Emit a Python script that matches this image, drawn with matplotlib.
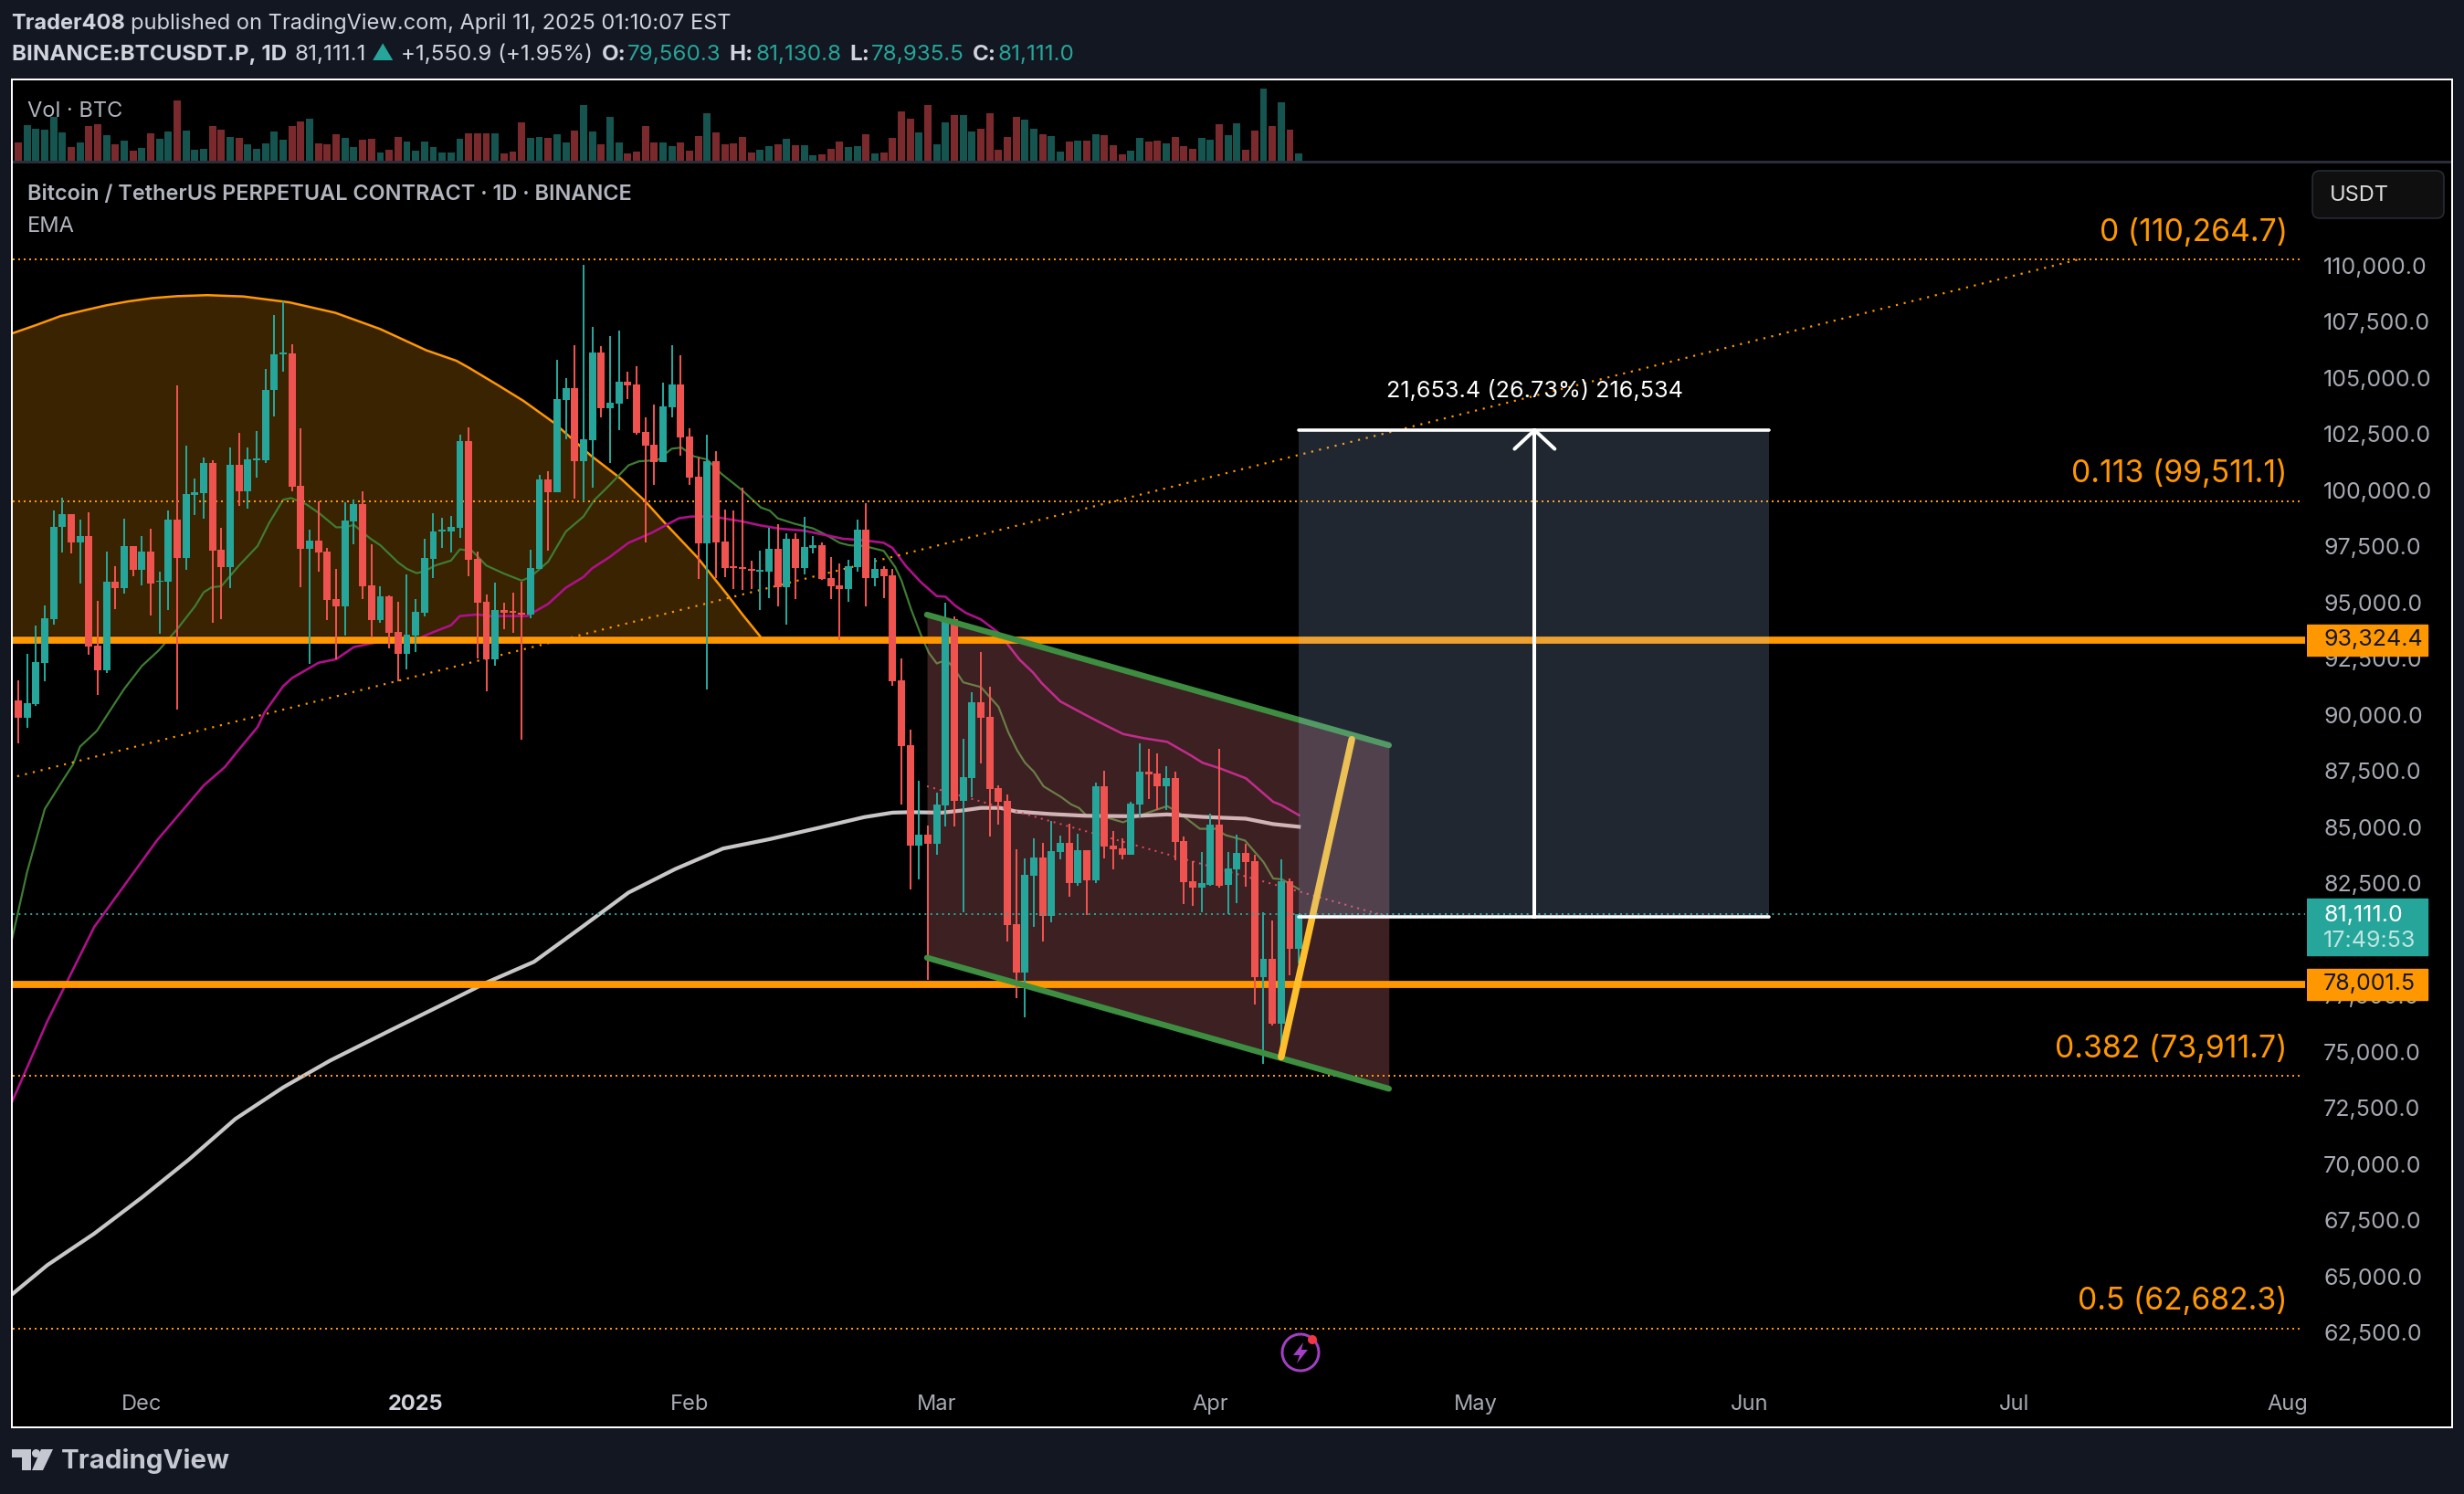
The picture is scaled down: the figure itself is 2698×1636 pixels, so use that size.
import matplotlib
matplotlib.use('Agg')
import matplotlib.pyplot as plt
from matplotlib.patches import Rectangle, Polygon, Circle, Arc, FancyBboxPatch
from matplotlib.transforms import blended_transform_factory

plt.rcParams['font.family'] = ['Inter', 'DejaVu Sans']

# Daily candles, first bar is Nov 17 2024
opens = [90630, 89870, 90470, 92310, 94270, 98340, 98930, 97680, 97950, 93070, 91980, 95910, 95640, 97510, 96450, 97260,
         95900, 95900, 98690, 96970, 99780, 99860, 101200, 97340, 96570, 101130, 99950, 101330, 101330, 104440, 106060,
         106080, 100180, 97380, 97740, 97260, 95140, 94820, 98600, 99370, 95750, 94210, 95280, 93680, 92700, 93520,
         94530, 96930, 98160, 98150, 98320, 102190, 96930, 95030, 92460, 94650, 94620, 94520, 94460, 96490, 100470,
         99910, 104010, 104540, 101290, 102210, 106120, 103640, 103840, 104830, 104700, 102590, 102010, 101240, 103680,
         104700, 102390, 100590, 97630, 101290, 97710, 96610, 96570, 96490, 96360, 96360, 97380, 95680, 97830, 96520,
         97440, 97540, 96090, 95750, 95590, 96570, 98240, 96090, 96490, 96200, 91520, 88650, 84180, 84660, 84240, 85960,
         94240, 86160, 87180, 90560, 89900, 86730, 86160, 80670, 78520, 82830, 83650, 81060, 83890, 84290, 82510, 83970,
         82620, 86810, 84180, 84050, 83760, 85990, 87460, 87380, 86810, 87180, 84370, 82590, 82300, 82440, 85110, 82430,
         83120, 83840, 83490, 78310, 79130, 76240, 82590, 79560]
highs = [91530, 92700, 93970, 94870, 99090, 99660, 98930, 98690, 99000, 95070, 97260, 96610, 98730, 97510, 97950, 98280,
         96360, 99090, 104650, 101980, 100510, 101440, 101310, 98320, 101890, 102550, 101890, 102620, 105390, 107790,
         108410, 106480, 102750, 98240, 99480, 97420, 96490, 99450, 99570, 99950, 97580, 95710, 95300, 95030, 96250,
         95140, 97830, 98960, 98760, 98850, 102460, 102790, 97260, 95350, 95880, 94980, 95430, 95910, 97340, 100680,
         100830, 105800, 104990, 106450, 110020, 107270, 106410, 106860, 107090, 105260, 105510, 103230, 103800, 104780,
         106450, 106000, 102750, 101440, 102460, 101730, 99140, 99090, 100110, 96860, 97310, 98320, 98480, 98080, 98080,
         98800, 97950, 97650, 97020, 96730, 96900, 98690, 99410, 96970, 96610, 96490, 92500, 89350, 87050, 85060, 86520,
         94980, 94370, 88920, 90990, 92790, 91250, 86850, 86450, 84000, 83600, 84500, 84290, 85270, 84610, 85140, 84690,
         83970, 86980, 87500, 84820, 84480, 86120, 88740, 88490, 88260, 87710, 87460, 84560, 83490, 83890, 85580, 88490,
         83890, 84640, 84240, 83760, 81190, 80830, 83570, 82700, 81130]
lows = [88730, 89420, 90400, 91480, 94020, 97220, 97180, 95840, 92660, 90880, 91850, 94690, 95400, 96160, 95750, 94420,
        93600, 94660, 90210, 96450, 98890, 98730, 94070, 94270, 95650, 99300, 99180, 100560, 101200, 103270, 105260,
        99950, 95680, 92250, 96360, 94210, 92470, 93520, 97580, 95140, 93440, 94080, 92950, 91480, 92020, 92790, 94390,
        96090, 97420, 97220, 97870, 96160, 92500, 91030, 92180, 93810, 93650, 88900, 94290, 96490, 97310, 99910, 102260,
        99610, 99500, 100110, 103230, 101200, 102660, 104040, 102460, 97670, 100220, 101240, 103230, 101530, 100220,
        96040, 91120, 96090, 96120, 95590, 95550, 95590, 94660, 95190, 94820, 94010, 95140, 96250, 97180, 96000, 95140,
        93310, 95030, 96360, 94820, 95710, 95190, 91280, 86010, 82230, 82670, 78210, 83760, 85030, 85030, 81220, 86330,
        87810, 84580, 85110, 79900, 77380, 76530, 80540, 79900, 80770, 83570, 81900, 82380, 81090, 82510, 83600, 83120,
        83570, 83760, 85450, 86250, 85770, 85740, 83520, 81570, 81490, 81220, 82380, 82300, 81140, 81610, 82350, 77090,
        74470, 76170, 74600, 78390, 78935]
closes = [89870, 90510, 92340, 94290, 98350, 98930, 97670, 97950, 93050, 91980, 95910, 95640, 97510, 96450, 97260, 95840,
          95960, 98690, 96970, 99820, 99910, 101200, 97310, 96570, 101130, 99950, 101370, 101400, 104450, 106050, 106120,
          100150, 97380, 97740, 97220, 95100, 94820, 98640, 99370, 95710, 94210, 95280, 93650, 92700, 93560, 94580,
          96970, 98150, 98240, 98350, 102190, 96900, 94980, 92460, 94660, 94530, 94530, 94460, 96520, 100470, 99910,
          104040, 104540, 101290, 102260, 106120, 103640, 103880, 104830, 104650, 102550, 101980, 101240, 103720, 104700,
          102350, 100560, 97630, 101290, 97670, 96520, 96520, 96490, 96410, 96450, 97380, 95680, 97830, 96520, 97470,
          97540, 96040, 95710, 95590, 96610, 98240, 96090, 96490, 96160, 91480, 88610, 84180, 84660, 84240, 85990, 94210,
          86160, 87220, 90560, 89870, 86690, 86120, 80640, 78520, 82880, 83650, 81060, 83920, 84290, 82510, 83970, 82620,
          86810, 84130, 84000, 83760, 86040, 87460, 87350, 86810, 87180, 84340, 82540, 82300, 82510, 85110, 82390, 83150,
          83840, 83440, 78310, 79130, 76240, 82590, 79560, 81111]
volume = [60, 117, 105, 102, 144, 93, 45, 60, 114, 120, 84, 54, 66, 33, 42, 90, 72, 96, 198, 99, 36, 39, 114, 102, 78, 75,
          54, 39, 57, 96, 69, 114, 129, 138, 57, 54, 87, 75, 45, 69, 72, 27, 36, 78, 63, 33, 63, 45, 27, 27, 72, 90, 90, 90,
          90, 24, 30, 126, 75, 78, 75, 87, 60, 99, 183, 96, 54, 144, 60, 24, 30, 114, 60, 60, 48, 60, 33, 81, 156, 93, 54,
          57, 78, 27, 36, 48, 54, 72, 51, 51, 18, 21, 39, 63, 45, 48, 87, 24, 27, 75, 162, 138, 93, 183, 54, 126, 150, 150,
          96, 105, 156, 36, 78, 144, 135, 105, 87, 81, 30, 63, 66, 66, 87, 84, 51, 21, 33, 75, 63, 66, 57, 78, 48, 39, 75,
          69, 120, 84, 123, 36, 99, 237, 114, 192, 102, 24]

ema20_days = [-1, 1, 3, 5, 6.2, 7, 8.9, 10.75, 12, 14, 15.9, 18, 20, 21, 21.9, 23, 25, 27.1, 28.4, 30, 30.9, 32.6, 34.1, 36,
              37.1, 38, 39.9, 41, 43, 44, 45.1, 46, 47.2, 49, 50, 51.4, 53, 55, 57, 58, 60, 62, 64, 65.2, 66.9, 69.1, 70.3,
              72.4, 74, 75.1, 76.5, 78, 79.6, 82, 84.1, 85.1, 86, 87.9, 90, 91.4, 93, 94.1, 95.8, 98, 99.3, 100, 101.1,
              102.2, 103.1, 104, 105.1, 106, 107, 109, 111, 112.1, 113.1, 114, 115, 116.1, 118.1, 119.2, 120.1, 121, 123,
              125.1, 127.1, 130.1, 131.5, 133.8, 135.6, 136.7, 138.9, 141, 142.1, 143.1, 145]
ema20_values = [79500, 83000, 85800, 87050, 87780, 88580, 89280, 90400, 91150, 92170, 92860, 93810, 94820, 95450, 95670,
                95720, 96640, 97510, 98530, 99570, 99640, 99370, 98960, 98340, 98350, 98450, 97830, 97540, 96780, 96490,
                96300, 96380, 96640, 96860, 97360, 97290, 96640, 96280, 95970, 96130, 96810, 98150, 98820, 99540, 100200,
                101100, 101280, 101330, 101840, 101890, 101500, 101360, 100730, 99980, 99220, 99080, 98740, 98500, 98290,
                98020, 97650, 97540, 97510, 97290, 96570, 95980, 94690, 93560, 92760, 92280, 92440, 92040, 91440, 91230,
                90350, 89220, 88420, 87860, 87460, 86810, 86330, 86010, 85850, 85500, 85450, 85210, 85530, 85930, 85610,
                84920, 84920, 84640, 84400, 83440, 82710, 82670, 82230]
ema50_days = [-1, 3.3, 8.6, 15.7, 21, 23.4, 24.8, 27.1, 27.9, 30, 31, 34, 36, 38, 40.7, 44.1, 45.2, 46.9, 49, 50, 52, 53.4,
              57.6, 60, 62, 64, 65, 66.9, 69.1, 71.7, 73.4, 74.8, 76.2, 78.6, 82, 84.1, 86.2, 89, 90.7, 93.4, 95.8, 98, 99,
              100.5, 102.2, 104, 105, 106.1, 107.3, 109, 111, 113.4, 114.9, 115.9, 118, 120.8, 123, 125.1, 127.5, 130.1,
              132.8, 134.1, 136, 139, 142.1, 143, 145]
ema50_values = [72500, 76360, 80550, 84400, 86850, 87670, 88360, 89450, 90110, 91270, 91630, 92310, 92470, 93010, 93230,
                93260, 93370, 93660, 93980, 94390, 94460, 94390, 94390, 94930, 95650, 96130, 96520, 97000, 97650, 98090,
                98450, 98740, 98820, 98820, 98600, 98420, 98280, 98190, 98050, 97830, 97760, 97650, 97420, 96620, 95900,
                95280, 95250, 94850, 94530, 94240, 93650, 92440, 91880, 91400, 90590, 90000, 89550, 89140, 88950, 88790,
                88180, 87860, 87620, 87170, 86120, 85980, 85530]
ema200_days = [-1, 3.3, 8.6, 14, 19.3, 24.6, 30, 35.3, 42.4, 47.8, 53.1, 58.4, 63.8, 69.1, 74.4, 79.8, 85.1, 90.5, 95.8, 99,
               101, 104.6, 107, 109, 111.2, 113, 116.8, 120.8, 126, 130.1, 134.1, 139, 142.1, 145]
ema200_values = [64100, 65500, 66900, 68510, 70190, 72010, 73410, 74600, 76000, 77050, 78090, 79000, 80540, 82080, 83130,
                 84040, 84460, 84950, 85440, 85640, 85660, 85640, 85740, 85850, 85850, 85690, 85580, 85500, 85480, 85560,
                 85450, 85370, 85130, 85010]

arc_days = [-1, 2, 4.8, 7.5, 10, 12.5, 15.2, 18, 21.4, 25.5, 30.7, 35.9, 41, 46.2, 49.6, 51, 54.5, 57.2, 60.7, 64.8, 68.3,
            71, 73.4, 76.9, 80.3, 82, 84]
arc_values = [106930, 107340, 107745, 108000, 108224, 108400, 108544, 108630, 108674, 108616, 108355, 107890, 107164,
              106221, 105756, 105451, 104624, 103970, 102983, 101546, 100486, 99499, 98454, 97002, 95332, 94461, 93489]
arc_base = 93520

fib_levels = [110264.7, 99511.1, 73911.7, 62682.3]
fib_labels = ['0 (110,264.7)', '0.113 (99,511.1)', '0.382 (73,911.7)', '0.5 (62,682.3)']
support_levels = [93324.4, 78001.5]
last_price = 81111.0
trend_days = [-1, 233.3]
trend_values = [87170, 110264.7]
channel_days = [102.9, 155.2]
channel_upper = [94450, 88640]
channel_lower = [79180, 73350]
path_days = [143, 151]
path_values = [74760, 88900]
measure_days = [145, 198.2]
measure_values = [81012, 102665.4]

price_ticks = list(range(62500, 110001, 2500))
month_days = [14, 45, 76, 104, 135, 165, 196, 226, 257]
month_labels = ['Dec', '2025', 'Feb', 'Mar', 'Apr', 'May', 'Jun', 'Jul', 'Aug']

BG = '#131722'
ORANGE = '#ff9800'
TEAL = '#26a69a'
RED = '#ef5350'
W, H = 2698, 1636
DAY_PX = 9.67
PRICE_PX = 0.0246


def pts(px):
    return px * 0.72


def add_axes_px(left, top, right, bottom, **kw):
    return fig.add_axes([left / W, 1 - bottom / H, (right - left) / W, (bottom - top) / H], **kw)


def price_at(y):
    return 75000 + (1151.6 - y) / PRICE_PX


def day_at(x):
    return (x - 20) / DAY_PX


fig = plt.figure(figsize=(W / 100, H / 100), dpi=100, facecolor=BG)

# Main price pane
ax = add_axes_px(14, 178, 2526, 1562, facecolor='black')
ax.set_xlim(day_at(14), day_at(2526))
ax.set_ylim(price_at(1562), price_at(178))
for s in ax.spines.values():
    s.set_visible(False)
ax.set_yticks([])
ax.set_xticks(month_days)
ax.set_xticklabels(month_labels)
ax.tick_params(axis='x', direction='in', length=0, pad=-25, labelsize=17, labelcolor='#a6a9b1')
ax.get_xticklabels()[1].set_fontweight('bold')
ax.get_xticklabels()[1].set_color('#d1d4dc')

# Rounded top drawing
ax.fill_between(arc_days, arc_values, arc_base, color=ORANGE, alpha=0.23, linewidth=0, zorder=1)
ax.plot(arc_days, arc_values, color=ORANGE, lw=pts(2.5), zorder=2)

# Moving averages
ax.plot(ema20_days, ema20_values, color='#3f7d33', lw=pts(2.2), zorder=2)
ax.plot(ema50_days, ema50_values, color='#b0108c', lw=pts(2.6), zorder=2)
ax.plot(ema200_days, ema200_values, color='#c8c6c6', lw=pts(4.2), zorder=2)

# Channel
ax.fill_between(channel_days, channel_lower, channel_upper, color='#f08088', alpha=0.25, linewidth=0, zorder=3)
channel_mid = [(a + b) / 2 for a, b in zip(channel_upper, channel_lower)]
ax.plot(channel_days, channel_mid, color='#e04a60', lw=pts(2), ls=(0, (1, 2.6)), zorder=3)

# Levels
ax.hlines(fib_levels, day_at(14), day_at(2520), color=ORANGE, lw=pts(2), linestyles=(0, (1, 2)), zorder=3)
ax.plot(trend_days, trend_values, color=ORANGE, lw=pts(2.2), ls=(0, (1, 3)), zorder=3)
ax.hlines(support_levels, day_at(14), day_at(2524), color=ORANGE, lw=pts(7.8), zorder=3)

# Candles
days = list(range(len(opens)))
up = [c >= o for o, c in zip(opens, closes)]
colors = [TEAL if u else RED for u in up]
ax.vlines(days, lows, highs, colors=colors, lw=pts(2), zorder=4)
ax.bar(days, [abs(c - o) for o, c in zip(opens, closes)], bottom=[min(o, c) for o, c in zip(opens, closes)],
       width=0.82, color=colors, linewidth=0, zorder=4)
ax.hlines(last_price, day_at(14), day_at(2524), color=TEAL, lw=pts(2), linestyles=(0, (1, 2.2)), zorder=5)

# Trendlines on top of the candles
ax.plot(channel_days, channel_upper, color='#3e8e41', lw=pts(6.5), solid_capstyle='round', zorder=5)
ax.plot(channel_days, channel_lower, color='#3e8e41', lw=pts(6.5), solid_capstyle='round', zorder=5)
ax.plot(path_days, path_values, color='#fdbf2d', lw=pts(7.5), solid_capstyle='round', zorder=5)

# Long position measure
ax.fill_between(measure_days, measure_values[0], measure_values[1], color='#a5c8fa', alpha=0.2, linewidth=0, zorder=6)
arrow_x = sum(measure_days) / 2 + 0.1
for level in measure_values:
    ax.plot(measure_days, [level, level], color='white', lw=pts(3.6), solid_capstyle='round', zorder=7)
ax.plot([arrow_x, arrow_x], measure_values, color='white', lw=pts(4), zorder=7)
ax.plot([arrow_x - 2.27, arrow_x, arrow_x + 2.27], [measure_values[1] - 835, measure_values[1], measure_values[1] - 835],
        color='white', lw=pts(4), solid_capstyle='round', zorder=7)
ax.text(arrow_x, measure_values[1] + 1750, '21,653.4 (26.73%) 216,534', color='white', fontsize=18.2,
        ha='center', va='center', zorder=8)

for level, label in zip(fib_levels, fib_labels):
    ax.text(day_at(2505), level + 1190, label, color=ORANGE, fontsize=24.3, ha='right', va='center', zorder=8)

# Price scale
ax_price = add_axes_px(2526, 178, 2684, 1562, facecolor='black')
ax_price.set_xlim(0, 1)
ax_price.set_ylim(ax.get_ylim())
ax_price.set_xticks([])
for s in ax_price.spines.values():
    s.set_visible(False)
ax_price.set_yticks(price_ticks)
ax_price.set_yticklabels([f'{p:,.1f}' for p in price_ticks])
ax_price.tick_params(axis='y', length=0, pad=-13, labelsize=18, labelcolor='#a6a9b1')
for label in ax_price.get_yticklabels():
    label.set_ha('left')
    label.set_va('center_baseline')

tag_tr = blended_transform_factory(ax_price.transAxes, ax_price.transData)
for level in support_levels:
    ax_price.add_patch(Rectangle((0, level - 691), 0.835, 1382, transform=tag_tr, color=ORANGE, zorder=5))
    ax_price.text(18 / 158, level, f'{level:,.1f}', transform=tag_tr, color='#131722', fontsize=18, va='center', zorder=6)
ax_price.add_patch(Rectangle((0, last_price - 1835), 0.835, 2520, transform=tag_tr, color=TEAL, zorder=5))
ax_price.text(18 / 158, last_price - 50, f'{last_price:,.1f}', transform=tag_tr, color='white', fontsize=18, va='center', zorder=6)
ax_price.text(18 / 158, last_price - 1200, '17:49:53', transform=tag_tr, color='#bfe5e1', fontsize=18, va='center', zorder=6)

# Volume pane
ax_vol = add_axes_px(14, 88, 2684, 176, facecolor='black')
ax_vol.set_xlim(day_at(14), day_at(2684))
ax_vol.set_ylim(0, 264)
ax_vol.set_xticks([])
ax_vol.set_yticks([])
for s in ax_vol.spines.values():
    s.set_visible(False)
ax_vol.bar(days, volume, width=0.82, color=['#15544f' if u else '#7a2a2c' for u in up], linewidth=0)

# Page furniture in pixel coordinates
page = fig.add_axes([0, 0, 1, 1], facecolor='none', zorder=10)
page.set_xlim(0, W)
page.set_ylim(H, 0)
page.axis('off')
page.add_patch(Rectangle((14, 176), 2670, 3, color='#2a2e39', lw=0))
page.add_patch(Rectangle((13, 87), 2672, 1476, fill=False, edgecolor='white', lw=pts(2)))
page.add_patch(FancyBboxPatch((2536, 191), 136, 44, boxstyle='round,pad=4,rounding_size=8', facecolor='#0f0f0f',
                              edgecolor='#2a2e39', lw=pts(1.5)))
page.text(2551, 214.5, 'USDT', color='#dbdbdb', fontsize=17, va='center')

renderer = fig.canvas.get_renderer()


def write_run(x, y, parts, size):
    for text, color, weight, gap in parts:
        t = page.text(x, y, text, color=color, fontsize=size, fontweight=weight, va='center')
        x += t.get_window_extent(renderer).width + gap


TXT = '#d1d4dc'
write_run(12.6, 25.5, [('Trader408', TXT, 'bold', 6), ('published on TradingView.com, April 11, 2025 01:10:07 EST', TXT, 'normal', 0)], 17)
write_run(12.6, 60, [('BINANCE:BTCUSDT.P, 1D', TXT, 'bold', 9), ('81,111.1', TXT, 'normal', 6), ('▲', TEAL, 'normal', 8),
                     ('+1,550.9 (+1.95%)', TXT, 'normal', 9), ('O:', TXT, 'bold', 2), ('79,560.3', TEAL, 'normal', 9),
                     ('H:', TXT, 'bold', 2), ('81,130.8', TEAL, 'normal', 9), ('L:', TXT, 'bold', 2),
                     ('78,935.5', TEAL, 'normal', 9), ('C:', TXT, 'bold', 2), ('81,111.0', TEAL, 'normal', 0)], 17.4)
page.text(30, 121.5, 'Vol · BTC', color='#b2b5be', fontsize=17, va='center')
page.text(30, 212.5, 'Bitcoin / TetherUS PERPETUAL CONTRACT · 1D · BINANCE', color='#b2b5be', fontsize=16.9, fontweight='semibold', va='center')
page.text(30, 247.5, 'EMA', color='#b2b5be', fontsize=17, va='center')

# TradingView logo
LOGO = '#c5c8d0'
page.add_patch(Polygon([(13, 1587), (34, 1587), (34, 1610), (24, 1610), (24, 1596), (13, 1596)], color=LOGO, lw=0))
page.add_patch(Circle((39.5, 1591.5), 4.5, color=LOGO, lw=0))
page.add_patch(Polygon([(45, 1587), (58, 1587), (47, 1610), (35, 1610)], color=LOGO, lw=0))
page.text(67, 1600, 'TradingView', color=LOGO, fontsize=21.2, fontweight='bold', va='center')

# Alert icon under the last bar
PURPLE = '#a33fc4'
page.add_patch(Arc((1424, 1481), 40, 40, theta1=-40, theta2=300, color=PURPLE, lw=pts(3)))
page.add_patch(Circle((1437, 1467), 5, color='#f23645', lw=0))
page.add_patch(Polygon([(1427, 1470), (1416, 1484), (1423, 1484), (1420, 1493), (1432, 1478), (1425, 1478)], color=PURPLE, lw=0))

fig.savefig('out.png', dpi=100, facecolor=BG)
